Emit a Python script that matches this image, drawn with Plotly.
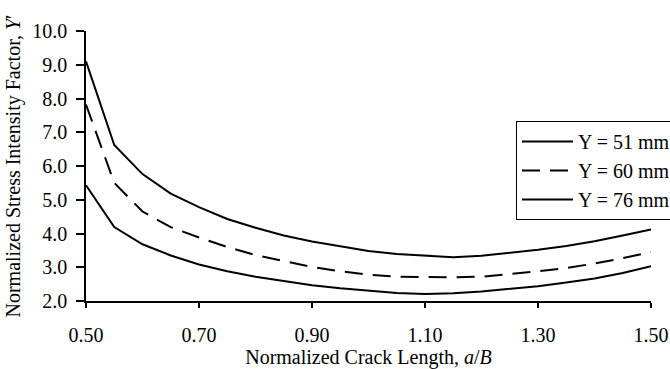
import plotly.graph_objects as go

crack_length = [0.50, 0.55, 0.60, 0.65, 0.70, 0.75, 0.80, 0.85, 0.90, 0.95, 1.00,
                1.05, 1.10, 1.15, 1.20, 1.25, 1.30, 1.35, 1.40, 1.45, 1.50]
y51 = [9.10, 6.62, 5.76, 5.18, 4.78, 4.43, 4.17, 3.94, 3.76, 3.61, 3.48,
       3.39, 3.34, 3.30, 3.34, 3.42, 3.52, 3.63, 3.77, 3.94, 4.12]
y60 = [7.82, 5.50, 4.65, 4.19, 3.88, 3.60, 3.36, 3.18, 3.01, 2.88, 2.78,
       2.72, 2.70, 2.70, 2.72, 2.79, 2.88, 2.98, 3.11, 3.27, 3.45]
y76 = [5.43, 4.19, 3.68, 3.35, 3.08, 2.88, 2.72, 2.59, 2.47, 2.38, 2.30,
       2.24, 2.21, 2.23, 2.28, 2.35, 2.44, 2.55, 2.67, 2.83, 3.03]
series_names = ["Y = 51 mm", "Y = 60 mm", "Y = 76 mm"]
x_ticks = [0.50, 0.70, 0.90, 1.10, 1.30, 1.50]
y_ticks = [2, 3, 4, 5, 6, 7, 8, 9, 10]

FONT = "Liberation Serif"

fig = go.Figure()
styles = ["solid", "18px,10px", "solid"]
for i, (name, ys) in enumerate(zip(series_names, [y51, y60, y76])):
    fig.add_trace(go.Scatter(
        x=crack_length, y=ys, mode="lines", name=name,
        legendgroup=name,
        line=dict(color="black", width=2, dash=styles[i]),
    ))

fig.update_layout(
    width=670, height=369,
    margin=dict(l=85.5, r=18.5, t=31, b=68, autoexpand=False),
    paper_bgcolor="white", plot_bgcolor="white",
    font=dict(family=FONT, size=20, color="black"),
    showlegend=True,
    legend=dict(
        x=0.761, y=0.6667, xanchor="left", yanchor="top",
        bgcolor="white", bordercolor="black", borderwidth=1,
        font=dict(family=FONT, size=20),
        itemwidth=51, tracegroupgap=0,
    ),
    xaxis=dict(
        range=[0.5, 1.5], tickvals=x_ticks,
        ticktext=[f"{v:.2f}" for v in x_ticks],
        showgrid=False, zeroline=False,
        showline=True, linecolor="black", linewidth=1.5,
        ticks="outside", ticklen=5, tickwidth=1.5, tickcolor="black",
        ticklabelstandoff=10,
        tickfont=dict(family=FONT, size=20),
        title=dict(text="Normalized Crack Length, <i>a</i>/<i>B</i>",
                   font=dict(family=FONT, size=20), standoff=8),
    ),
    yaxis=dict(
        range=[2, 10], tickvals=y_ticks,
        ticktext=[f"{v:.1f}" for v in y_ticks],
        showgrid=False, zeroline=False,
        showline=True, linecolor="black", linewidth=1.5,
        ticks="outside", ticklen=8, tickwidth=1.5, tickcolor="black",
        ticklabelstandoff=5,
        tickfont=dict(family=FONT, size=20),
        title=dict(text="Normalized Stress Intensity Factor, <i>Y</i>′",
                   font=dict(family=FONT, size=20), standoff=6),
    ),
)

fig.write_html("out.html")
